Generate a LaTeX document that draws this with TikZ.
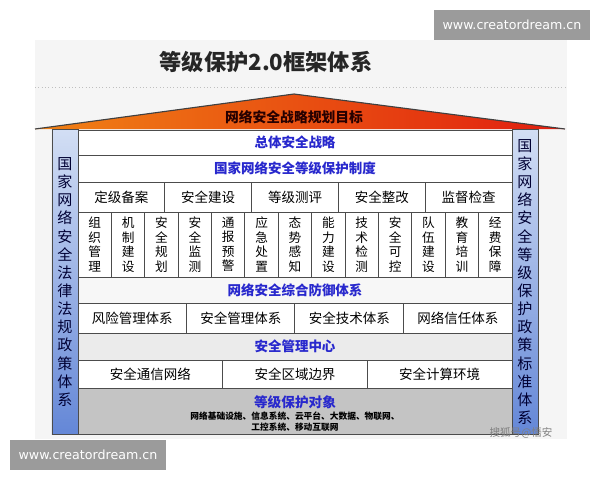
\documentclass[tikz,border=0pt]{standalone}
\usepackage{fontspec}
\setmainfont{Noto Sans CJK SC}
\newfontfamily\wmfont{DejaVu Sans}
\definecolor{hdblue}{RGB}{40,40,205}
\definecolor{roofl}{RGB}{240,130,20}
\definecolor{roofm}{RGB}{250,195,30}
\definecolor{roofr}{RGB}{225,30,15}
\definecolor{colt}{RGB}{210,222,244}
\definecolor{colb}{RGB}{100,135,215}
\definecolor{wmgray}{RGB}{155,155,155}
\definecolor{objgray}{RGB}{196,196,196}
\begin{document}
\begin{tikzpicture}[x=0.025cm,y=-0.025cm]
    \tikzstyle{st}=[draw=black!70, line width=0.7pt, fill=white, inner sep=0pt, font=\fontsize{9.6}{11}\selectfont];
    \tikzstyle{hd}=[st, text=hdblue, minimum width=10.85cm, font=\bfseries\fontsize{9.6}{11}\selectfont];
    \tikzstyle{vt}=[st, align=center, minimum width=0.8346cm, minimum height=1.625cm, font=\fontsize{9}{10.3}\selectfont];
    \tikzstyle{col}=[draw=black!70, line width=0.7pt, top color=colt, bottom color=colb, minimum width=0.65cm, minimum height=7.6cm, inner sep=0pt, align=center, text=black!80!blue, font=\fontsize{10.7}{12.9}\selectfont];
    \tikzstyle{wm}=[fill=wmgray, text=white, inner sep=0pt, minimum width=3.9cm, minimum height=0.75cm, font=\wmfont\fontsize{9}{10}\selectfont];
    \useasboundingbox (0,0) rectangle (600,480);

    \fill[black!4] (35,40) rectangle (567,439);
    \draw[black!25, dotted] (35,87) -- (567,87);
    \shade[left color=roofl, middle color=roofm, right color=roofr] (35,129) -- (294,94) -- (565,129) -- cycle;
    \draw[black!75, line width=0.8pt] (35,129) -- (294,94) -- (565,129);

    \node (title) at (266,62) [font=\bfseries\fontsize{15.8}{18}\selectfont, text=black!85] {等级保护2.0框架体系};
    \node (goal) at (294,117) [font=\bfseries\fontsize{9.8}{11}\selectfont, text=black!85!red] {网络安全战略规划目标};

    \node (strat) at (295,142.5) [hd, minimum height=0.625cm] {总体安全战略};
    \node (sys) at (295,168.5) [hd, minimum height=0.675cm] {国家网络安全等级保护制度};

    \node (s1) at (121.4,197) [st, minimum width=2.17cm, minimum height=0.75cm] {定级备案};
    \node (s2) at (208.2,197) [st, minimum width=2.17cm, minimum height=0.75cm] {安全建设};
    \node (s3) at (295,197) [st, minimum width=2.17cm, minimum height=0.75cm] {等级测评};
    \node (s4) at (381.8,197) [st, minimum width=2.17cm, minimum height=0.75cm] {安全整改};
    \node (s5) at (468.6,197) [st, minimum width=2.17cm, minimum height=0.75cm] {监督检查};

    \node (v1) at (94.69,244.5) [vt] {组\\织\\管\\理};
    \node (v2) at (128.08,244.5) [vt] {机\\制\\建\\设};
    \node (v3) at (161.46,244.5) [vt] {安\\全\\规\\划};
    \node (v4) at (194.85,244.5) [vt] {安\\全\\监\\测};
    \node (v5) at (228.23,244.5) [vt] {通\\报\\预\\警};
    \node (v6) at (261.62,244.5) [vt] {应\\急\\处\\置};
    \node (v7) at (295,244.5) [vt] {态\\势\\感\\知};
    \node (v8) at (328.38,244.5) [vt] {能\\力\\建\\设};
    \node (v9) at (361.77,244.5) [vt] {技\\术\\检\\测};
    \node (v10) at (395.15,244.5) [vt] {安\\全\\可\\控};
    \node (v11) at (428.54,244.5) [vt] {队\\伍\\建\\设};
    \node (v12) at (461.92,244.5) [vt] {教\\育\\培\\训};
    \node (v13) at (495.31,244.5) [vt] {经\\费\\保\\障};

    \node (def) at (295,290) [hd, fill=black!3, minimum height=0.65cm] {网络安全综合防御体系};

    \node (d1) at (132.25,318) [st, minimum width=2.7125cm, minimum height=0.75cm] {风险管理体系};
    \node (d2) at (240.75,318) [st, minimum width=2.7125cm, minimum height=0.75cm] {安全管理体系};
    \node (d3) at (349.25,318) [st, minimum width=2.7125cm, minimum height=0.75cm] {安全技术体系};
    \node (d4) at (457.75,318) [st, minimum width=2.7125cm, minimum height=0.75cm] {网络信任体系};

    \node (mgr) at (295,346.5) [hd, fill=black!8, minimum height=0.675cm] {安全管理中心};

    \node (e1) at (150.33,374) [st, minimum width=3.6167cm, minimum height=0.7cm] {安全通信网络};
    \node (e2) at (295,374) [st, minimum width=3.6167cm, minimum height=0.7cm] {安全区域边界};
    \node (e3) at (439.67,374) [st, minimum width=3.6167cm, minimum height=0.7cm] {安全计算环境};

    \node (obj) at (295,411) [st, fill=objgray, minimum width=10.85cm, minimum height=1.15cm] {};
    \node (objt) at (295,402) [text=hdblue, font=\bfseries\fontsize{9.7}{11}\selectfont] {等级保护对象};
    \node (objs) at (295,421.5) [align=center, font=\bfseries\fontsize{6.2}{7.8}\selectfont] {网络基础设施、信息系统、云平台、大数据、物联网、\\工控系统、移动互联网};

    \node (law) at (65,282) [col] {国\\家\\网\\络\\安\\全\\法\\律\\法\\规\\政\\策\\体\\系};
    \node (std) at (525,282) [col] {国\\家\\网\\络\\安\\全\\等\\级\\保\\护\\政\\策\\标\\准\\体\\系};

    \node (sohu) at (521,432.5) [inner sep=0pt, text=black!50, font=\fontsize{7.5}{8}\selectfont] {搜狐号@悟安};
    \node (wm1) at (512,25) [wm] {www.creatordream.cn};
    \node (wm2) at (88,455) [wm] {www.creatordream.cn};
\end{tikzpicture}
\end{document}
